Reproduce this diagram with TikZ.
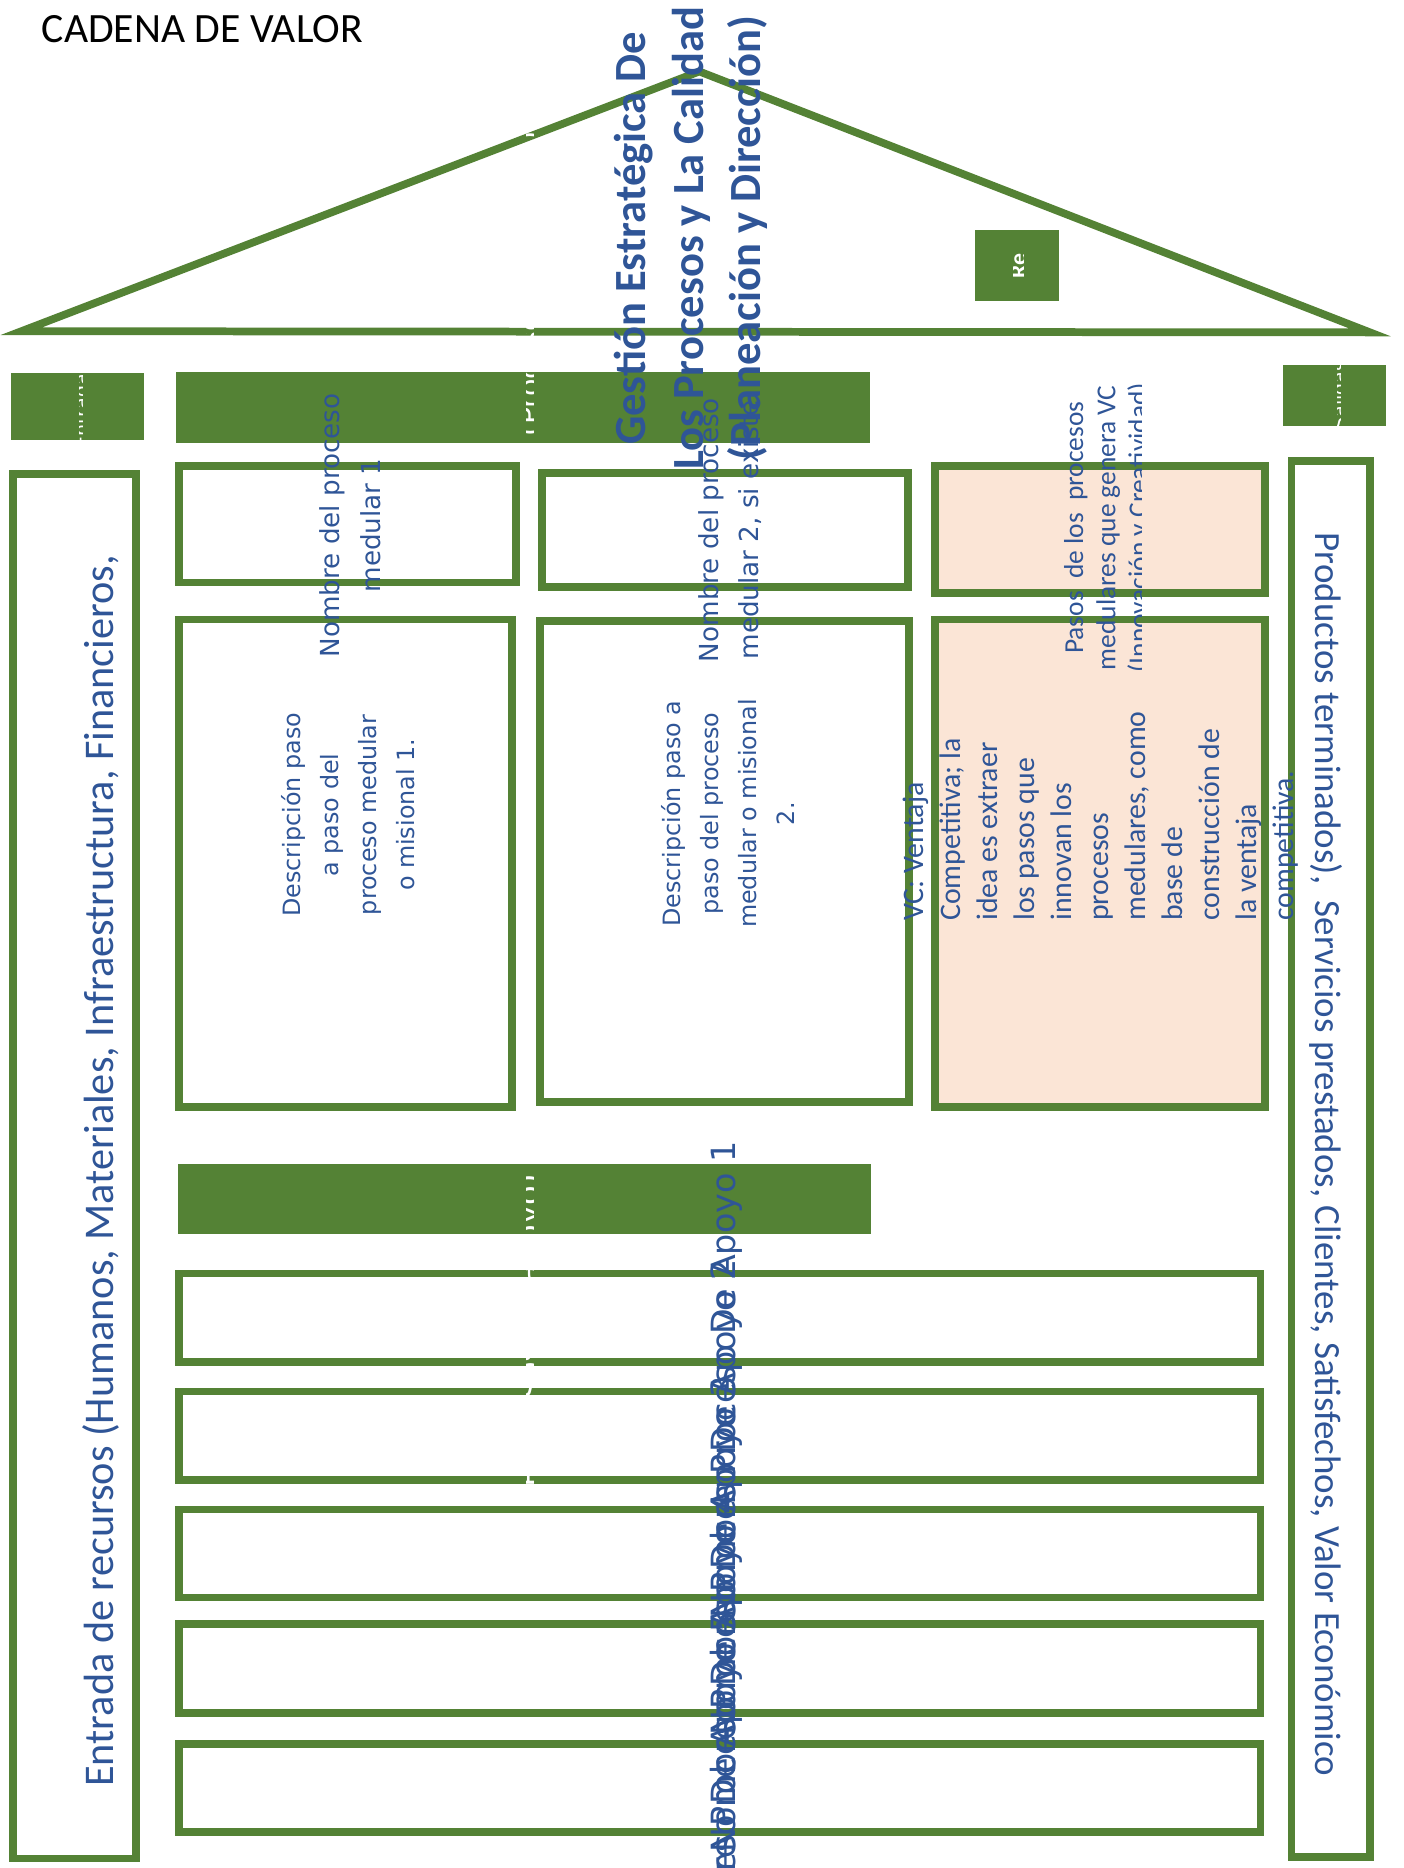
\documentclass[tikz,border=0pt]{standalone}
\usepackage{fontspec}
\setmainfont{Carlito}
\newfontfamily\dejavu{DejaVu Sans}
\definecolor{verde}{HTML}{548235}
\definecolor{azul}{HTML}{2F5597}
\definecolor{durazno}{HTML}{FBE5D6}
\tikzset{
  caja/.style={draw=verde, line width=6.5pt},
  barra/.style={fill=verde},
  vtxt/.style={text=azul, rotate=90, inner sep=0pt},
  blanco/.style={text=white, rotate=90, inner sep=0pt, font=\dejavu\fontsize{24}{30}\selectfont},
}
\begin{document}
\begin{tikzpicture}[x=1pt, y=-1pt]
  \useasboundingbox (0,0) rectangle (1178,1568);

  % --- titulo ---
  \node[anchor=base west, inner sep=0pt, font=\fontsize{35}{42}\selectfont] (titulo) at (35,36) {CADENA DE VALOR};

  % --- techo ---
  \draw[caja, line join=miter] (18,278) -- (587,60) -- (1150,279) -- cycle;
  \fill[barra] (818,193) rectangle (889,253);

  % --- barras verdes ---
  \fill[barra] (148,312) rectangle (730,372);
  \fill[barra] (9,313) rectangle (121,369);
  \fill[barra] (1077,306) rectangle (1163,358);
  \fill[barra] (149,977) rectangle (731,1036);

  % --- entradas y salidas ---
  \draw[caja] (11,398) rectangle (114,1560);
  \draw[caja] (1084,387) rectangle (1150,1559);

  % --- procesos medulares ---
  \draw[caja] (150,391) rectangle (433,489);
  \draw[caja] (455,397) rectangle (762,493);
  \draw[caja, fill=durazno] (785,391) rectangle (1062,498);
  \draw[caja] (150,520) rectangle (430,929);
  \draw[caja] (453,521) rectangle (763,925);
  \draw[caja, fill=durazno] (785,520) rectangle (1062,929);

  % --- procesos de apoyo ---
  \foreach \ya/\yb in {1069/1143, 1168/1242, 1267/1341, 1363/1438, 1464/1538}
    \draw[caja] (150,\ya) rectangle (1058,\yb);

  % --- textos de entrada / salida ---
  \node[vtxt, anchor=west, font=\fontsize{35.5}{42}\selectfont] (entrada) at (85,1500)
    {Entrada de recursos (Humanos, Materiales, Infraestructura, Financieros,};
  \node[text=azul, rotate=-90, inner sep=0pt, anchor=west, font=\fontsize{31}{38}\selectfont] (productos) at (1113,447)
    {Productos terminados),\ \ Servicios prestados, Clientes, Satisfechos, Valor Económico};

  % --- nombres y descripciones ---
  \node[vtxt, align=center, font=\dejavu\fontsize{22}{34}\selectfont] (nombre1) at (294,441)
    {Nombre del proceso\\medular 1};
  \node[vtxt, align=center, font=\dejavu\fontsize{22}{34}\selectfont] (nombre2) at (613,445)
    {Nombre del proceso\\medular 2, si existe};
  \begin{scope}
    \clip (700,300) rectangle (958,600);
    \node[vtxt, align=center, font=\fontsize{23}{27}\selectfont] (pasos) at (930,443)
      {Pasos\ \ de los\ \ procesos\\medulares que genera VC\\(Innovación y Creatividad)};
  \end{scope}
  \node[vtxt, align=center, font=\dejavu\fontsize{20}{32}\selectfont] (desc1) at (292,684)
    {Descripción paso\\a paso del\\proceso medular\\o misional 1.};
  \node[vtxt, align=center, font=\dejavu\fontsize{20}{32}\selectfont] (desc2) at (611,683)
    {Descripción paso a\\paso del proceso\\medular o misional\\2.};
  \node[vtxt, align=left, anchor=west, font=\fontsize{25}{31}\selectfont] (ventaja) at (924,773)
    {VC: Ventaja\\Competitiva; la\\idea es extraer\\los pasos que\\innovan los\\procesos\\medulares, como\\base de\\construcción de\\la ventaja\\competitiva.};

  % --- apoyo (superpuestos) ---
  \foreach \k in {1,...,5}
    \node[vtxt, anchor=east, font=\dejavu\fontsize{28}{34}\selectfont] (apoyo\k) at (610,{958+98.5*(\k-1)})
      {Nombre Proceso De Apoyo \k};

  % --- restos de texto blanco ---
  \begin{scope}
    \clip (442,0) rectangle (448,1568);
    \node[blanco] (medulares) at (445,238) {(Procesos Medulares)};
    \node[blanco, font=\dejavu\fontsize{27}{32}\selectfont] (deapoyo) at (445,1122) {(Procesos de apoyo)};
  \end{scope}
  \begin{scope}
    \clip (851,190) rectangle (859,256);
    \node[blanco, font=\bfseries\fontsize{20}{24}\selectfont] (re) at (855,223) {Re};
  \end{scope}
  \begin{scope}
    \clip (67,313) rectangle (69,369);
    \node[blanco, font=\dejavu\fontsize{16}{20}\selectfont] (entradas) at (68,341) {Entradas};
  \end{scope}
  \begin{scope}
    \clip (1123,306) rectangle (1125,358);
    \node[blanco, font=\dejavu\fontsize{16}{20}\selectfont] (salidas) at (1124,332) {Salidas};
  \end{scope}

  % --- gestion estrategica ---
  \node[vtxt, align=center, font=\bfseries\fontsize{37.4}{48}\selectfont] (gestion) at (580,200)
    {Gestión Estratégica De\\Los Procesos y La Calidad\\(Planeación y Dirección)};

\end{tikzpicture}
\end{document}
